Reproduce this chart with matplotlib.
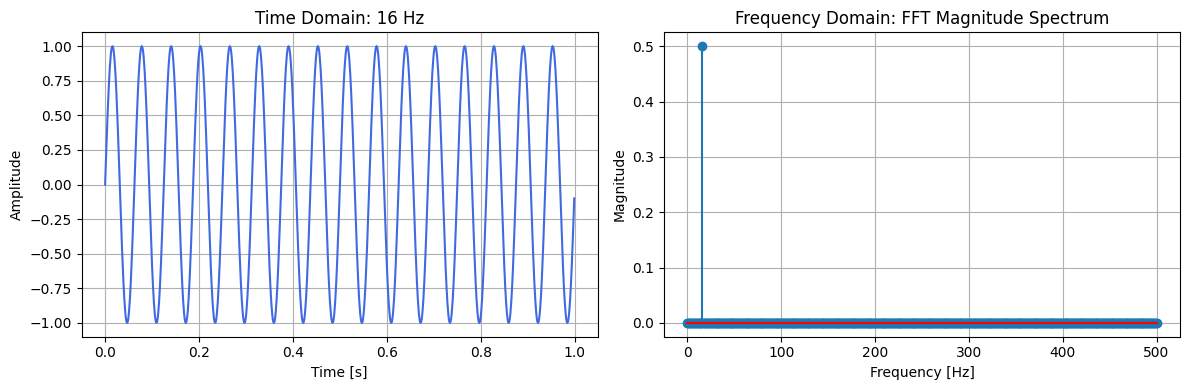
import numpy as np
import matplotlib
matplotlib.use("Agg")
import matplotlib.pyplot as plt

# Signal parameters
signal_freq_hz = 16
sample_rate_hz = 1000
duration_s = 1.0

t = np.arange(0, duration_s, 1 / sample_rate_hz)
signal = np.sin(2 * np.pi * signal_freq_hz * t)

spectrum = np.abs(np.fft.rfft(signal)) / len(signal)
freqs = np.fft.rfftfreq(len(signal), 1 / sample_rate_hz)

fig, (ax1, ax2) = plt.subplots(1, 2, figsize=(12, 4))

ax1.plot(t, signal, color="royalblue")
ax1.set_title(f"Time Domain: {signal_freq_hz} Hz")
ax1.set_xlabel("Time [s]")
ax1.set_ylabel("Amplitude")
ax1.grid(True)

ax2.stem(freqs, spectrum, basefmt="r-")
ax2.set_title("Frequency Domain: FFT Magnitude Spectrum")
ax2.set_xlabel("Frequency [Hz]")
ax2.set_ylabel("Magnitude")
ax2.grid(True)

fig.tight_layout()
fig.savefig("out.png", dpi=100, bbox_inches="tight")
